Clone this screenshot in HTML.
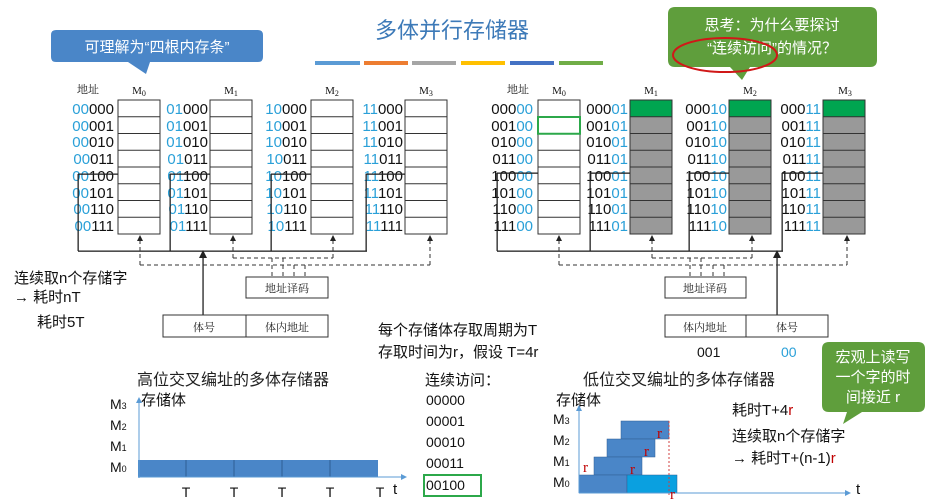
<!DOCTYPE html>
<html><head><meta charset="utf-8"><style>
body{margin:0;background:#fff;}
svg{display:block;font-family:"Liberation Sans","Noto Sans CJK SC",sans-serif;}
.a{font-size:15px;fill:#111;text-anchor:end}
.b{fill:#2aa0d8}
.m{font-family:"Liberation Serif","Noto Serif CJK SC",serif;font-size:11px;fill:#111;text-anchor:middle}
.s{font-family:"Noto Serif CJK SC","Liberation Serif",serif;font-size:11px;fill:#222;text-anchor:middle}
.t{font-size:15px;fill:#111}
.r{font-family:"Liberation Serif",serif;fill:#c00000;font-size:15px}
</style></head><body>
<svg width="930" height="499" viewBox="0 0 930 499" xmlns="http://www.w3.org/2000/svg">
<defs>
<marker id="ar" markerWidth="6" markerHeight="6" refX="3" refY="3" orient="auto"><path d="M0,0L6,3L0,6z" fill="#222"/></marker>
<marker id="ab" markerWidth="6" markerHeight="6" refX="3" refY="3" orient="auto"><path d="M0,0L6,3L0,6z" fill="#5b9bd5"/></marker>
<path id="hl" d="M0,16.75H42M0,33.5H42M0,50.25H42M0,67H42M0,83.75H42M0,100.5H42M0,117.25H42" fill="none" stroke="#333"/>
</defs>

<text x="452" y="38" font-size="22" fill="#3d7ab8" text-anchor="middle">多体并行存储器</text>
<rect x="315" y="61" width="45" height="4" fill="#5b9bd5"/>
<rect x="364" y="61" width="44" height="4" fill="#ed7d31"/>
<rect x="412" y="61" width="44" height="4" fill="#a5a5a5"/>
<rect x="461" y="61" width="44" height="4" fill="#ffc000"/>
<rect x="510" y="61" width="44" height="4" fill="#4472c4"/>
<rect x="559" y="61" width="44" height="4" fill="#70ad47"/>

<path d="M56,30H258Q263,30 263,35V57Q263,62 258,62H150L146,74L128,62H56Q51,62 51,57V35Q51,30 56,30Z" fill="#4a86c8"/>
<text x="157" y="52" font-size="15" fill="#fff" text-anchor="middle">可理解为“四根内存条”</text>

<path d="M675,7H870Q877,7 877,14V60Q877,67 870,67H750L742,80L730,67H675Q668,67 668,60V14Q668,7 675,7Z" fill="#5f9e3c"/>
<text x="772" y="30" font-size="15" fill="#fff" text-anchor="middle">思考：为什么要探讨</text>
<text x="772" y="53" font-size="15" fill="#fff" text-anchor="middle">“连续访问”的情况？</text>
<ellipse cx="725" cy="55" rx="52" ry="17" fill="none" stroke="#d01818" stroke-width="2"/>

<!-- LEFT PANEL -->
<text x="88" y="93" class="s">地址</text>
<text x="139" y="94" class="m">M<tspan font-size="8" dy="2">0</tspan></text>
<text x="231" y="94" class="m">M<tspan font-size="8" dy="2">1</tspan></text>
<text x="332" y="94" class="m">M<tspan font-size="8" dy="2">2</tspan></text>
<text x="426" y="94" class="m">M<tspan font-size="8" dy="2">3</tspan></text>
<g fill="none" stroke="#333">
<rect x="118" y="100" width="42" height="134"/>
<rect x="210" y="100" width="42" height="134"/>
<rect x="311" y="100" width="42" height="134"/>
<rect x="405" y="100" width="42" height="134"/>
</g>
<use href="#hl" x="118" y="100"/><use href="#hl" x="210" y="100"/><use href="#hl" x="311" y="100"/><use href="#hl" x="405" y="100"/>
<g class="a">
<text x="114" y="114"><tspan class="b">00</tspan>000</text>
<text x="114" y="131"><tspan class="b">00</tspan>001</text>
<text x="114" y="147"><tspan class="b">00</tspan>010</text>
<text x="114" y="164"><tspan class="b">00</tspan>011</text>
<text x="114" y="181"><tspan class="b">00</tspan>100</text>
<text x="114" y="198"><tspan class="b">00</tspan>101</text>
<text x="114" y="214"><tspan class="b">00</tspan>110</text>
<text x="114" y="231"><tspan class="b">00</tspan>111</text>
<text x="208" y="114"><tspan class="b">01</tspan>000</text>
<text x="208" y="131"><tspan class="b">01</tspan>001</text>
<text x="208" y="147"><tspan class="b">01</tspan>010</text>
<text x="208" y="164"><tspan class="b">01</tspan>011</text>
<text x="208" y="181"><tspan class="b">01</tspan>100</text>
<text x="208" y="198"><tspan class="b">01</tspan>101</text>
<text x="208" y="214"><tspan class="b">01</tspan>110</text>
<text x="208" y="231"><tspan class="b">01</tspan>111</text>
<text x="307" y="114"><tspan class="b">10</tspan>000</text>
<text x="307" y="131"><tspan class="b">10</tspan>001</text>
<text x="307" y="147"><tspan class="b">10</tspan>010</text>
<text x="307" y="164"><tspan class="b">10</tspan>011</text>
<text x="307" y="181"><tspan class="b">10</tspan>100</text>
<text x="307" y="198"><tspan class="b">10</tspan>101</text>
<text x="307" y="214"><tspan class="b">10</tspan>110</text>
<text x="307" y="231"><tspan class="b">10</tspan>111</text>
<text x="403" y="114"><tspan class="b">11</tspan>000</text>
<text x="403" y="131"><tspan class="b">11</tspan>001</text>
<text x="403" y="147"><tspan class="b">11</tspan>010</text>
<text x="403" y="164"><tspan class="b">11</tspan>011</text>
<text x="403" y="181"><tspan class="b">11</tspan>100</text>
<text x="403" y="198"><tspan class="b">11</tspan>101</text>
<text x="403" y="214"><tspan class="b">11</tspan>110</text>
<text x="403" y="231"><tspan class="b">11</tspan>111</text>
</g>
<g fill="#222">
<rect x="78" y="250.5" width="289" height="1.3"/>
<rect x="77.5" y="174" width="1.3" height="77"/><rect x="78" y="173.5" width="40" height="1.3"/>
<rect x="169.5" y="174" width="1.3" height="77"/><rect x="170" y="173.5" width="40" height="1.3"/>
<rect x="270.5" y="174" width="1.3" height="77"/><rect x="271" y="173.5" width="40" height="1.3"/>
<rect x="365.5" y="174" width="1.3" height="77"/><rect x="366" y="173.5" width="39" height="1.3"/>
<rect x="202.4" y="256" width="1.3" height="79"/>
<path d="M199,258L203,250L207,258Z"/>
</g>
<g fill="none" stroke="#333" stroke-dasharray="4,3">
<path d="M140,265H430M233,258H333M272,258V277M283,258V277M294,265V277M305,265V277"/>
<path d="M140,265V238" marker-end="url(#ar)"/>
<path d="M233,258V238" marker-end="url(#ar)"/>
<path d="M333,258V238" marker-end="url(#ar)"/>
<path d="M430,265V238" marker-end="url(#ar)"/>
</g>
<rect x="246" y="277" width="82" height="21" fill="#fff" stroke="#333"/>
<text x="287" y="292" class="s" font-size="12">地址译码</text>
<rect x="163" y="315" width="165" height="22" fill="#fff" stroke="#333"/>
<line x1="246" y1="315" x2="246" y2="337" stroke="#333"/>
<text x="204" y="331" class="s" font-size="12">体号</text>
<text x="287" y="331" class="s" font-size="12">体内地址</text>

<text x="14" y="283" class="t">连续取n个存储字</text>
<text x="14" y="302" class="t">→ 耗时nT</text>
<text x="37" y="327" class="t">耗时5T</text>

<!-- RIGHT PANEL -->
<text x="518" y="93" class="s">地址</text>
<text x="559" y="94" class="m">M<tspan font-size="8" dy="2">0</tspan></text>
<text x="651" y="94" class="m">M<tspan font-size="8" dy="2">1</tspan></text>
<text x="750" y="94" class="m">M<tspan font-size="8" dy="2">2</tspan></text>
<text x="845" y="94" class="m">M<tspan font-size="8" dy="2">3</tspan></text>
<rect x="630" y="100" width="42" height="134" fill="#999"/>
<rect x="729" y="100" width="42" height="134" fill="#999"/>
<rect x="823" y="100" width="42" height="134" fill="#999"/>
<rect x="630" y="100" width="42" height="17" fill="#00a550"/>
<rect x="729" y="100" width="42" height="17" fill="#00a550"/>
<rect x="823" y="100" width="42" height="17" fill="#00a550"/>
<g fill="none" stroke="#333">
<rect x="538" y="100" width="42" height="134"/>
<rect x="630" y="100" width="42" height="134"/>
<rect x="729" y="100" width="42" height="134"/>
<rect x="823" y="100" width="42" height="134"/>
</g>
<use href="#hl" x="538" y="100"/><use href="#hl" x="630" y="100"/><use href="#hl" x="729" y="100"/><use href="#hl" x="823" y="100"/>
<rect x="538" y="117" width="42" height="16.75" fill="none" stroke="#2ca84a" stroke-width="2"/>
<g class="a">
<text x="533" y="114">000<tspan class="b">00</tspan></text>
<text x="533" y="131">001<tspan class="b">00</tspan></text>
<text x="533" y="147">010<tspan class="b">00</tspan></text>
<text x="533" y="164">011<tspan class="b">00</tspan></text>
<text x="533" y="181">100<tspan class="b">00</tspan></text>
<text x="533" y="198">101<tspan class="b">00</tspan></text>
<text x="533" y="214">110<tspan class="b">00</tspan></text>
<text x="533" y="231">111<tspan class="b">00</tspan></text>
<text x="628" y="114">000<tspan class="b">01</tspan></text>
<text x="628" y="131">001<tspan class="b">01</tspan></text>
<text x="628" y="147">010<tspan class="b">01</tspan></text>
<text x="628" y="164">011<tspan class="b">01</tspan></text>
<text x="628" y="181">100<tspan class="b">01</tspan></text>
<text x="628" y="198">101<tspan class="b">01</tspan></text>
<text x="628" y="214">110<tspan class="b">01</tspan></text>
<text x="628" y="231">111<tspan class="b">01</tspan></text>
<text x="727" y="114">000<tspan class="b">10</tspan></text>
<text x="727" y="131">001<tspan class="b">10</tspan></text>
<text x="727" y="147">010<tspan class="b">10</tspan></text>
<text x="727" y="164">011<tspan class="b">10</tspan></text>
<text x="727" y="181">100<tspan class="b">10</tspan></text>
<text x="727" y="198">101<tspan class="b">10</tspan></text>
<text x="727" y="214">110<tspan class="b">10</tspan></text>
<text x="727" y="231">111<tspan class="b">10</tspan></text>
<text x="821" y="114">000<tspan class="b">11</tspan></text>
<text x="821" y="131">001<tspan class="b">11</tspan></text>
<text x="821" y="147">010<tspan class="b">11</tspan></text>
<text x="821" y="164">011<tspan class="b">11</tspan></text>
<text x="821" y="181">100<tspan class="b">11</tspan></text>
<text x="821" y="198">101<tspan class="b">11</tspan></text>
<text x="821" y="214">110<tspan class="b">11</tspan></text>
<text x="821" y="231">111<tspan class="b">11</tspan></text>
</g>
<g fill="#222">
<rect x="497" y="250.5" width="286" height="1.3"/>
<rect x="496.5" y="173" width="1.3" height="78"/><rect x="497" y="172.5" width="41" height="1.3"/>
<rect x="589.5" y="173" width="1.3" height="78"/><rect x="590" y="172.5" width="40" height="1.3"/>
<rect x="688.5" y="173" width="1.3" height="78"/><rect x="689" y="172.5" width="40" height="1.3"/>
<rect x="781.5" y="173" width="1.3" height="78"/><rect x="782" y="172.5" width="41" height="1.3"/>
<rect x="776.4" y="256" width="1.3" height="59"/>
<path d="M773,258L777,250L781,258Z"/>
</g>
<g fill="none" stroke="#333" stroke-dasharray="4,3">
<path d="M559,265H847M652,258H752M690,258V277M701,258V277M713,265V277M724,265V277"/>
<path d="M559,265V238" marker-end="url(#ar)"/>
<path d="M652,258V238" marker-end="url(#ar)"/>
<path d="M752,258V238" marker-end="url(#ar)"/>
<path d="M847,265V238" marker-end="url(#ar)"/>
</g>
<rect x="665" y="277" width="81" height="21" fill="#fff" stroke="#333"/>
<text x="705" y="292" class="s" font-size="12">地址译码</text>
<rect x="665" y="315" width="163" height="22" fill="#fff" stroke="#333"/>
<line x1="746" y1="315" x2="746" y2="337" stroke="#333"/>
<text x="705" y="331" class="s" font-size="12">体内地址</text>
<text x="787" y="331" class="s" font-size="12">体号</text>
<text x="697" y="357" font-size="14" fill="#111">001</text>
<text x="781" y="357" font-size="14" fill="#2aa0d8">00</text>

<text x="378" y="335" class="t">每个存储体存取周期为T</text>
<text x="378" y="357" class="t">存取时间为r，假设 T=4r</text>

<text x="137" y="385" font-size="16" fill="#222">高位交叉编址的多体存储器</text>
<text x="141" y="405" class="t">存储体</text>
<g font-size="14" fill="#111">
<text x="110" y="409">M<tspan font-size="9">3</tspan></text>
<text x="110" y="430">M<tspan font-size="9">2</tspan></text>
<text x="110" y="451">M<tspan font-size="9">1</tspan></text>
<text x="110" y="472">M<tspan font-size="9">0</tspan></text>
</g>
<rect x="138" y="460" width="240" height="17" fill="#4a86c8"/>
<path d="M186,460V477M234,460V477M282,460V477M330,460V477" stroke="#2e5f94"/>
<path d="M139,478V400" stroke="#5b9bd5" fill="none" marker-end="url(#ab)"/>
<path d="M138,477H404" stroke="#5b9bd5" fill="none" marker-end="url(#ab)"/>
<g font-size="14" fill="#111" text-anchor="middle">
<text x="186" y="497">T</text><text x="234" y="497">T</text><text x="282" y="497">T</text><text x="330" y="497">T</text><text x="380" y="497">T</text>
</g>
<text x="393" y="494" font-size="15" fill="#111">t</text>

<text x="425" y="385" class="t">连续访问：</text>
<g font-size="14" fill="#111">
<text x="426" y="405">00000</text>
<text x="426" y="426">00001</text>
<text x="426" y="447">00010</text>
<text x="426" y="468">00011</text>
<text x="426" y="490">00100</text>
</g>
<rect x="424" y="475" width="57" height="21" fill="none" stroke="#2ca84a" stroke-width="2"/>

<text x="583" y="385" font-size="16" fill="#222">低位交叉编址的多体存储器</text>
<text x="556" y="405" class="t">存储体</text>
<g font-size="14" fill="#111">
<text x="553" y="424">M<tspan font-size="9">3</tspan></text>
<text x="553" y="445">M<tspan font-size="9">2</tspan></text>
<text x="553" y="466">M<tspan font-size="9">1</tspan></text>
<text x="553" y="487">M<tspan font-size="9">0</tspan></text>
</g>
<rect x="621" y="421" width="48" height="18" fill="#4a86c8" stroke="#2e5f94" stroke-width=".5"/>
<rect x="607" y="439" width="48" height="18" fill="#4a86c8" stroke="#2e5f94" stroke-width=".5"/>
<rect x="594" y="457" width="48" height="18" fill="#4a86c8" stroke="#2e5f94" stroke-width=".5"/>
<rect x="579" y="475" width="48" height="18" fill="#4a86c8" stroke="#2e5f94" stroke-width=".5"/>
<rect x="627" y="475" width="50" height="18" fill="#0aa0e0" stroke="#2e5f94" stroke-width=".5"/>
<line x1="669" y1="421" x2="669" y2="495" stroke="#d04040" stroke-dasharray="2,2"/>
<path d="M579,493V408" stroke="#5b9bd5" fill="none" marker-end="url(#ab)"/>
<path d="M579,493H848" stroke="#5b9bd5" fill="none" marker-end="url(#ab)"/>
<text x="856" y="494" font-size="15" fill="#111">t</text>
<text x="583" y="472" class="r">r</text>
<text x="657" y="438" class="r">r</text>
<text x="644" y="456" class="r">r</text>
<text x="630" y="474" class="r">r</text>
<text x="670" y="499" class="r">r</text>

<text x="732" y="415" class="t">耗时T+4<tspan fill="#c00000">r</tspan></text>
<text x="732" y="441" class="t">连续取n个存储字</text>
<text x="732" y="463" class="t">→ 耗时T+(n-1)<tspan fill="#c00000">r</tspan></text>

<path d="M829,342H918Q925,342 925,349V405Q925,412 918,412H862L843,424L847,412H829Q822,412 822,405V349Q822,342 829,342Z" fill="#5f9e3c"/>
<g font-size="15" fill="#fff" text-anchor="middle">
<text x="873" y="362">宏观上读写</text>
<text x="873" y="382">一个字的时</text>
<text x="873" y="402">间接近 r</text>
</g>
</svg>
</body></html>
